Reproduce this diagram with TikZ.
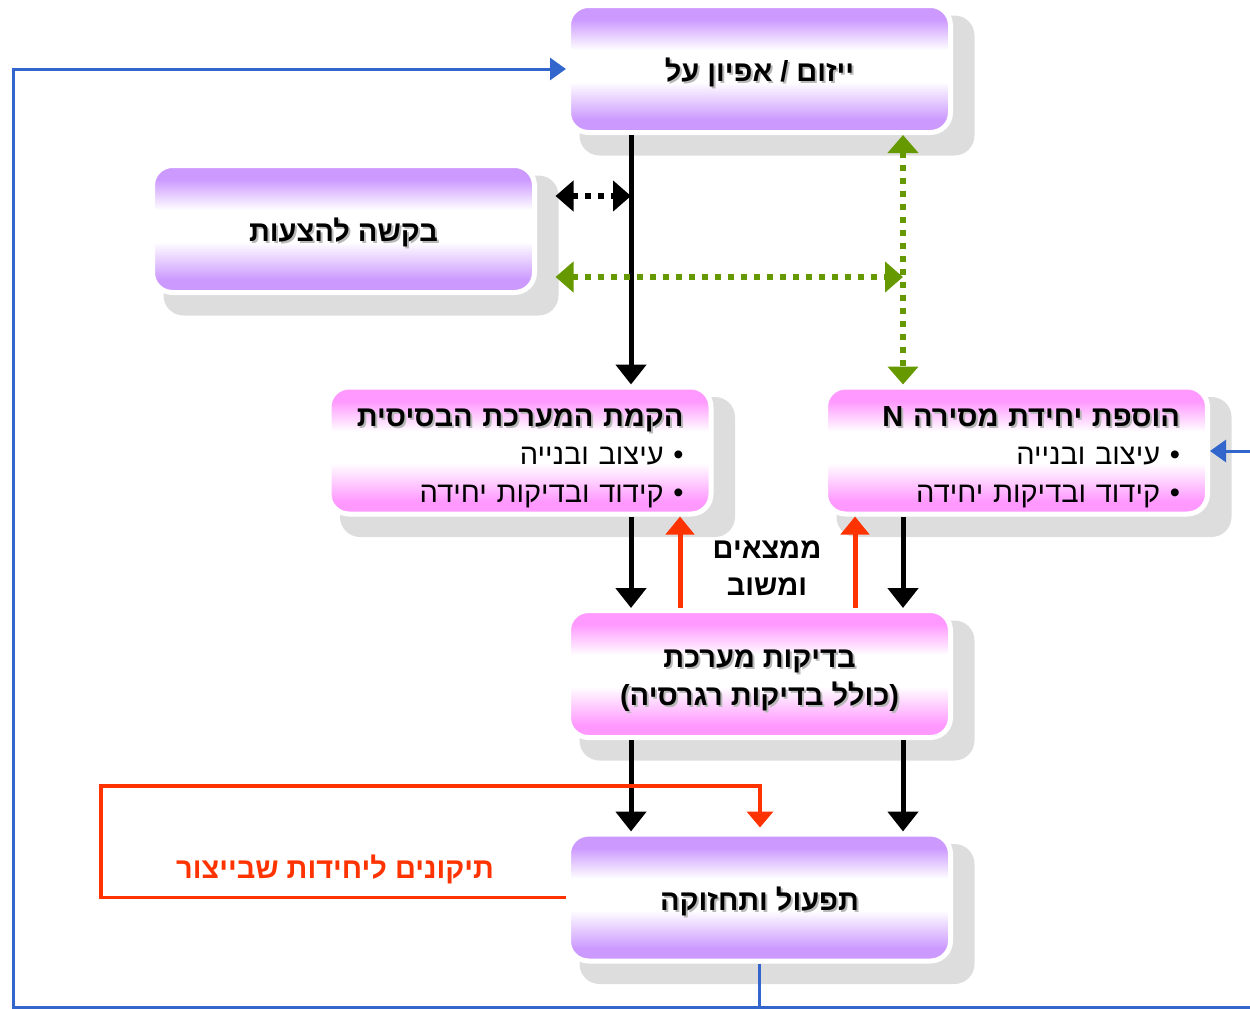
\documentclass[tikz,border=0pt]{standalone}
\usepackage{fontspec}
\setmainfont{Liberation Sans}
\newfontfamily\heb[Script=Hebrew]{Liberation Sans}
\TeXXeTstate=1
\usetikzlibrary{arrows.meta,backgrounds,calc}
\definecolor{vio}{HTML}{CC99FF}
\definecolor{pnk}{HTML}{FF99FF}
\definecolor{shd}{HTML}{DDDDDD}
\definecolor{redc}{HTML}{FF3300}
\definecolor{grn}{HTML}{669900}
\definecolor{blu}{HTML}{3366CC}
\newcommand{\rtl}[1]{\beginR #1\endR}
\newcommand{\stx}[1]{\leavevmode\rlap{\kern2pt\raisebox{-2pt}{\color{black!28}\rtl{#1}}}\rtl{#1}}
\newcommand{\tstrut}{\rule{0pt}{33pt}}
\pgfdeclareverticalshading{vshade}{100bp}{color(0bp)=(vio); color(30bp)=(vio); color(45bp)=(white); color(57.5bp)=(white); color(69.5bp)=(vio); color(100bp)=(vio)}
\pgfdeclareverticalshading{pshade}{100bp}{color(0bp)=(pnk); color(30bp)=(pnk); color(45bp)=(white); color(57.5bp)=(white); color(69.5bp)=(pnk); color(100bp)=(pnk)}
\begin{document}
\begin{tikzpicture}[x=1pt,y=-1pt,
  box/.style={rounded corners=20pt, minimum width=382pt, minimum height=127pt, draw=white, line width=5pt, inner sep=0pt, font=\heb\bfseries\fontsize{29}{38}\selectfont, align=center},
  vbox/.style={box, shading=vshade},
  pbox/.style={box, shading=pshade},
  blk/.style={line width=5pt, -{Triangle[width=30pt,length=20pt]}},
  redup/.style={line width=5pt, redc, -{Triangle[width=28pt,length=18pt]}},
  dotblk/.style={line width=6pt, dash pattern=on 6pt off 7pt, {Triangle[width=30pt,length=18pt]}-{Triangle[width=30pt,length=18pt]}},
  dotgrn/.style={dotblk, grn},
  redfb/.style={line width=3.5pt, redc, -{Triangle[width=26pt,length=16pt]}},
  bluel/.style={line width=3pt, blu},
  bluea/.style={bluel, -{Triangle[width=22pt,length=16pt]}},
  lbl/.style={font=\heb\bfseries\fontsize{29}{37}\selectfont, align=center, inner sep=0pt},
  shadowbox/.style={fill=shd, rounded corners=20pt}
]
\useasboundingbox (0,0) rectangle (1250,1009);
% boxes
\node[vbox] (A) at (759.5,69) {\tstrut\stx{ייזום / אפיון על}};
\node[vbox] (B) at (343.5,229) {\tstrut\stx{בקשה להצעות}};
\node[pbox, text width=327pt, align=right] (C) at (520,450.5) {\tstrut\stx{הקמת המערכת הבסיסית}\\{\mdseries\rtl{• עיצוב ובנייה}}\\{\mdseries\rtl{• קידוד ובדיקות יחידה}}};
\node[pbox, text width=327pt, align=right] (D) at (1016.5,450.5) {\tstrut\stx{הוספת יחידת מסירה N}\\{\mdseries\rtl{• עיצוב ובנייה}}\\{\mdseries\rtl{• קידוד ובדיקות יחידה}}};
\node[pbox] (E) at (759.5,674) {\tstrut\stx{בדיקות מערכת}\\\stx{(כולל בדיקות רגרסיה)}};
\node[vbox] (F) at (759.5,897.5) {\tstrut\stx{תפעול ותחזוקה}};
% shadows
\begin{scope}[on background layer]
\foreach \n in {A,B,C,D,E,F}
  \fill[shadowbox] ($(\n.north west)+(13.5,12.5)$) rectangle ($(\n.south east)+(21.5,20.5)$);
\end{scope}
% labels
\node[lbl] (m1) at (767,568) {\rtl{ממצאים}\\\rtl{ומשוב}};
\node[lbl, text=redc] (t1) at (335,869) {\rtl{תיקונים ליחידות שבייצור}};
% reference coordinates
\coordinate (xl) at (631,0);
\coordinate (xg) at (903,0);
\coordinate (xr1) at (680,0);
\coordinate (xr2) at (855,0);
\coordinate (xm) at (760,0);
\coordinate (yb) at (0,1007);
\coordinate (rB) at (1250,1007);
\coordinate (rE) at (1250,451);
\coordinate (lx) at (13,0);
\coordinate (fbx) at (101,786);
\coordinate (bj) at (F.south |- yb);
% connectors
\draw[blk] (A.south -| xl) -- (C.north -| xl);
\coordinate (d1) at ($(B.east)+(18.5,-33)$);
\draw[dotblk] (d1) -- (d1 -| xl);
\coordinate (g1) at ($(B.east)+(18.5,48)$);
\draw[dotgrn] (g1) -- (g1 -| xg);
\draw[dotgrn] (A.south -| xg) -- (D.north -| xg);
\draw[blk] (C.south -| xl) -- (E.north -| xl);
\draw[blk] (D.south -| xg) -- (E.north -| xg);
\draw[redup] (E.north -| xr1) -- (C.south -| xr1);
\draw[redup] (E.north -| xr2) -- (D.south -| xr2);
\draw[blk] (E.south -| xl) -- (F.north -| xl);
\draw[blk] (E.south -| xg) -- (F.north -| xg);
\draw[redfb] (F.west) -| (fbx) -| ($(F.north -| xm)+(0,-4)$);
\draw[bluea] (F.south) -- (bj) -- (lx |- yb) |- (A.west);
\draw[bluel] (bj) -- (rB);
\draw[bluea] (rE) -- (D.east |- rE);
\end{tikzpicture}
\end{document}
